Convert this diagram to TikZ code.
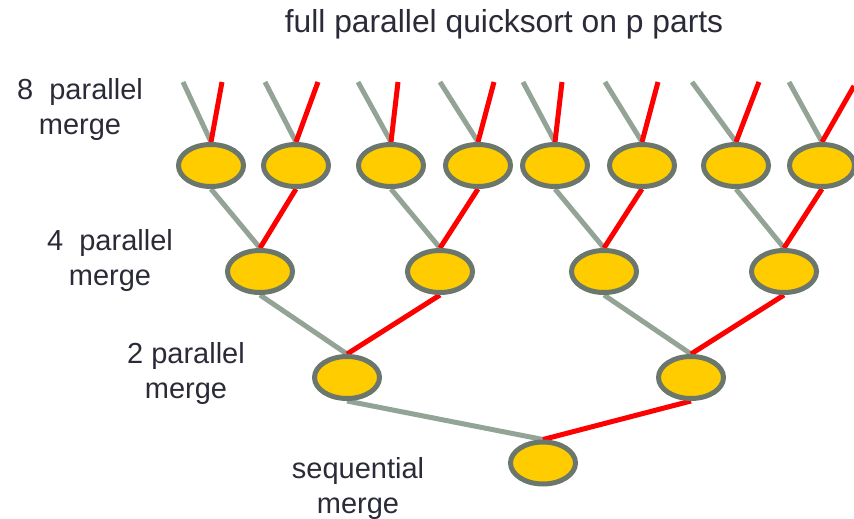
\documentclass[tikz,border=0pt]{standalone}
\usepackage{fontspec}
\setmainfont{Liberation Sans}
\usepackage{xcolor}
\usetikzlibrary{shapes.geometric, backgrounds}
\definecolor{mergefill}{HTML}{FFCC00}
\definecolor{mergeedge}{HTML}{6B776D}
\definecolor{leftgray}{HTML}{93A497}
\definecolor{labeltext}{HTML}{2B2B38}

\begin{document}
\begin{tikzpicture}[x=1pt, y=-1pt,
  merge/.style={ellipse, draw=mergeedge, fill=mergefill, line width=5pt,
                minimum width=65pt, minimum height=42pt, inner sep=0pt},
  grayline/.style={draw=leftgray, line width=5pt},
  redline/.style={draw=red, line width=5pt},
  lbl/.style={align=center, inner sep=0pt, text=labeltext,
              font=\fontsize{29}{35}\selectfont}
]
\useasboundingbox (0,0) rectangle (854,519);

% Title
\node[anchor=base, inner sep=0pt, text=labeltext, font=\fontsize{31.8}{38}\selectfont]
  (title) at (504,33) {full parallel quicksort on p parts};

% Level labels
\node[lbl] (lab8) at (80,110) {8\ \ parallel\\merge};
\node[lbl] (lab4) at (110,260) {4\ \ parallel\\merge};
\node[lbl] (lab2) at (186,373) {2 parallel\\merge};
\node[lbl] (labseq) at (358,488) {sequential\\merge};

% 8 parallel merges
\node[merge] (a1) at (211,165.5) {};
\node[merge] (a2) at (296,165.5) {};
\node[merge] (a3) at (391,165.5) {};
\node[merge] (a4) at (478,165.5) {};
\node[merge] (a5) at (555,165.5) {};
\node[merge] (a6) at (642,165.5) {};
\node[merge] (a7) at (736,165.5) {};
\node[merge] (a8) at (822,165.5) {};

% 4 parallel merges
\node[merge] (b1) at (260,271.5) {};
\node[merge] (b2) at (440,271.5) {};
\node[merge] (b3) at (604,271.5) {};
\node[merge] (b4) at (784,271.5) {};

% 2 parallel merges
\node[merge] (c1) at (347,377.5) {};
\node[merge] (c2) at (691,377.5) {};

% sequential merge
\node[merge] (d) at (543,463) {};

% Incoming parts
\coordinate (g1) at (183,82); \coordinate (r1) at (222,82);
\coordinate (g2) at (265,82); \coordinate (r2) at (318,82);
\coordinate (g3) at (358,82); \coordinate (r3) at (398,82);
\coordinate (g4) at (440,82); \coordinate (r4) at (494,82);
\coordinate (g5) at (523,82); \coordinate (r5) at (562,82);
\coordinate (g6) at (605,82); \coordinate (r6) at (658,82);
\coordinate (g7) at (692,82); \coordinate (r7) at (759,82);
\coordinate (g8) at (789,82); \coordinate (r8) at (854,86);

\begin{scope}[on background layer]
  % Top lines
  \draw[grayline] (g1) -- (a1.north); \draw[redline] (r1) -- (a1.north);
  \draw[grayline] (g2) -- (a2.north); \draw[redline] (r2) -- (a2.north);
  \draw[grayline] (g3) -- (a3.north); \draw[redline] (r3) -- (a3.north);
  \draw[grayline] (g4) -- (a4.north); \draw[redline] (r4) -- (a4.north);
  \draw[grayline] (g5) -- (a5.north); \draw[redline] (r5) -- (a5.north);
  \draw[grayline] (g6) -- (a6.north); \draw[redline] (r6) -- (a6.north);
  \draw[grayline] (g7) -- (a7.north); \draw[redline] (r7) -- (a7.north);
  \draw[grayline] (g8) -- (a8.north); \draw[redline] (r8) -- (a8.north);
  % 8 -> 4
  \draw[grayline] (a1.south) -- (b1.north); \draw[redline] (a2.south) -- (b1.north);
  \draw[grayline] (a3.south) -- (b2.north); \draw[redline] (a4.south) -- (b2.north);
  \draw[grayline] (a5.south) -- (b3.north); \draw[redline] (a6.south) -- (b3.north);
  \draw[grayline] (a7.south) -- (b4.north); \draw[redline] (a8.south) -- (b4.north);
  % 4 -> 2
  \draw[grayline] (b1.south) -- (c1.north); \draw[redline] (b2.south) -- (c1.north);
  \draw[grayline] (b3.south) -- (c2.north); \draw[redline] (b4.south) -- (c2.north);
  % 2 -> 1
  \draw[grayline] (c1.south) -- (d.north); \draw[redline] (c2.south) -- (d.north);
\end{scope}
\end{tikzpicture}
\end{document}
